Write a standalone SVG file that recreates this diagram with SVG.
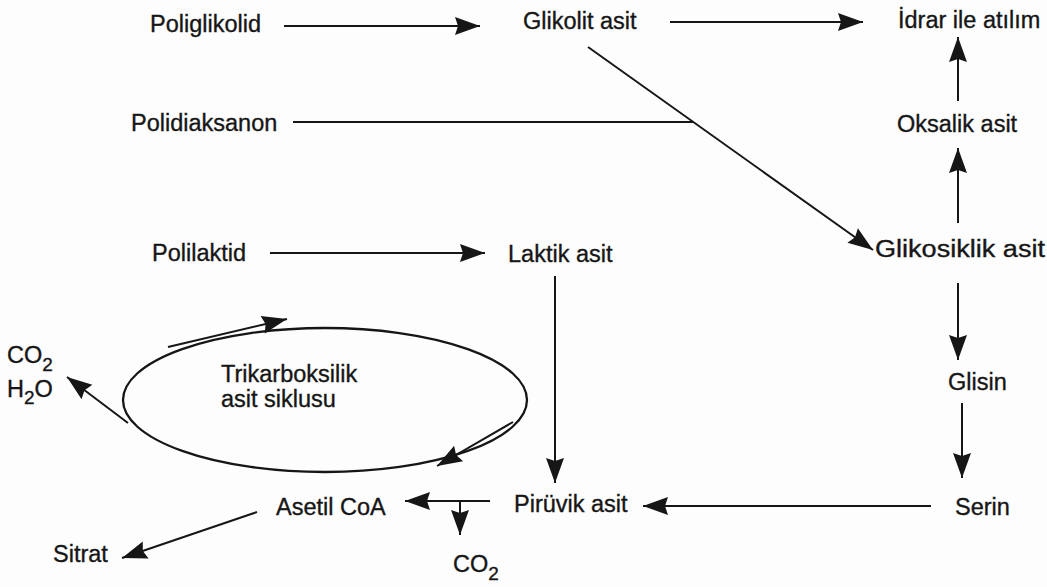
<svg xmlns="http://www.w3.org/2000/svg" width="1047" height="587" viewBox="0 0 1047 587">
<style>
text{font-family:"Liberation Sans",Arial,Helvetica,sans-serif;font-size:23.5px;fill:#161616;stroke:#161616;stroke-width:0.35}
.sub{font-size:19px}
.c line{stroke:#161616;stroke-width:2;fill:none}
.a{marker-end:url(#ah)}
</style>
<defs>
<marker id="ah" markerUnits="userSpaceOnUse" markerWidth="28" markerHeight="20" refX="25" refY="9" orient="auto" overflow="visible">
<path d="M0,0 L25,9 L0,18 L3,9 z" fill="#161616"/>
</marker>
</defs>
<rect width="1047" height="587" fill="#fdfdfd"/>
<g class="c" id="connectors">
<line class="a" x1="284" y1="26" x2="480" y2="26"/>
<line class="a" x1="670" y1="22" x2="863" y2="22"/>
<line class="a" x1="588" y1="47" x2="873" y2="250"/>
<line x1="293" y1="122" x2="693" y2="122"/>
<line class="a" x1="270" y1="253" x2="485" y2="253"/>
<line class="a" x1="555" y1="276" x2="555" y2="483"/>
<line class="a" x1="958" y1="223" x2="958" y2="148"/>
<line class="a" x1="958" y1="101" x2="958" y2="37"/>
<line class="a" x1="958" y1="283" x2="958" y2="360"/>
<line class="a" x1="962" y1="403" x2="962" y2="478"/>
<line class="a" x1="931" y1="506" x2="643" y2="506"/>
<line class="a" x1="490" y1="501" x2="405" y2="501"/>
<line class="a" x1="460" y1="501" x2="460" y2="535"/>
<line class="a" x1="257" y1="512" x2="122" y2="558"/>
<line class="a" x1="128" y1="423" x2="67" y2="377"/>
<line class="a" x1="168" y1="347" x2="287" y2="319"/>
<line class="a" x1="513" y1="422" x2="437" y2="466"/>
</g>
<g id="tca-cycle">
<ellipse cx="325" cy="400" rx="202" ry="72" stroke="#161616" stroke-width="2.3" fill="none"/>
<text x="221" y="382">Trikarboksilik</text>
<text x="221" y="407">asit siklusu</text>
</g>
<g id="poliglikolid"><text x="150" y="32">Poliglikolid</text></g>
<g id="glikolit-asit"><text x="523" y="29">Glikolit asit</text></g>
<g id="idrar"><text x="898" y="28">İdrar ile atılım</text></g>
<g id="polidiaksanon"><text x="131" y="131">Polidiaksanon</text></g>
<g id="oksalik-asit"><text x="897" y="132">Oksalik asit</text></g>
<g id="polilaktid"><text x="152" y="261">Polilaktid</text></g>
<g id="laktik-asit"><text x="508" y="262">Laktik asit</text></g>
<g id="glikosiklik-asit"><text x="875" y="257" textLength="170" lengthAdjust="spacingAndGlyphs">Glikosiklik asit</text></g>
<g id="glisin"><text x="948" y="390">Glisin</text></g>
<g id="serin"><text x="955" y="515">Serin</text></g>
<g id="piruvik-asit"><text x="514" y="512">Pirüvik asit</text></g>
<g id="asetil-coa"><text x="276" y="515">Asetil CoA</text></g>
<g id="sitrat"><text x="53" y="562">Sitrat</text></g>
<g id="co2-bottom"><text x="453" y="572">CO<tspan class="sub" dy="8">2</tspan></text></g>
<g id="co2-h2o"><text x="7" y="363">CO<tspan class="sub" dy="8">2</tspan></text><text x="7" y="397">H<tspan class="sub" dy="7">2</tspan><tspan dy="-7">O</tspan></text></g>
</svg>
